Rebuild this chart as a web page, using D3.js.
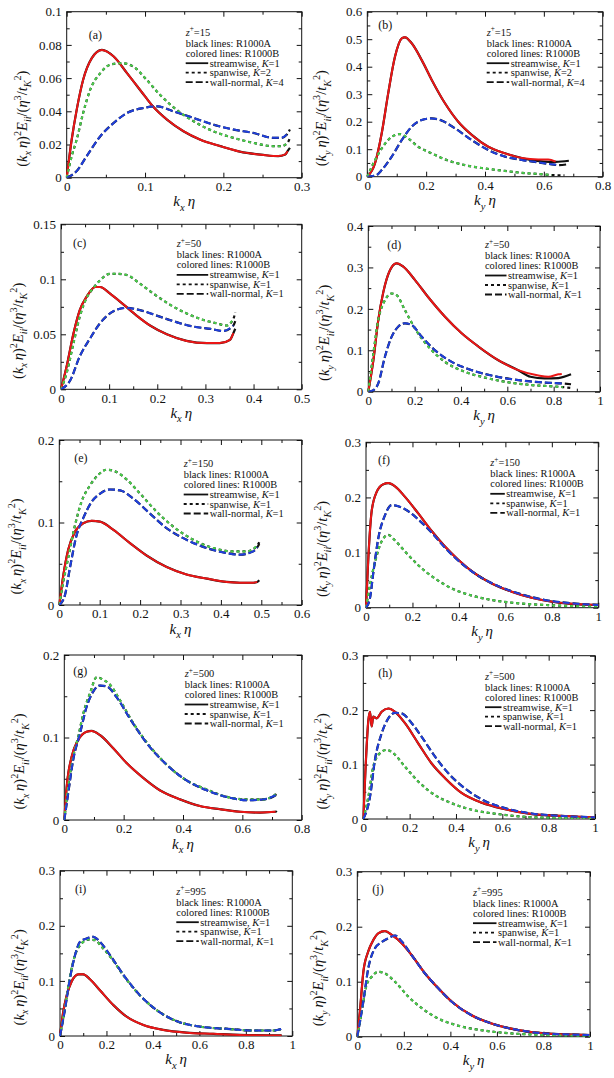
<!DOCTYPE html>
<html>
<head>
<meta charset="utf-8">
<script src="https://cdn.jsdelivr.net/npm/d3@7"></script>
<style>
    body { margin: 0; background: #fff; }
    svg text { font-family: "Liberation Serif", "Times New Roman", serif; fill: #111; }
</style>
</head>
<body>
<div id="chart"></div>
<script>
// ---- data: [k*eta, value] pairs for R1000B (colored lines)
// black R1000A lines follow the same points, with their own end pieces in *_tails

// (a) z+=15, k_x
const a_xTicks = [0, 0.1, 0.2, 0.3];
const a_yTicks = [0, 0.02, 0.04, 0.06, 0.08, 0.1];
const a_K = [1, 2, 4];
const a_stream = [[0,0],[0.0064,0.023],[0.0128,0.041],[0.021,0.059],[0.032,0.072],[0.045,0.077],[0.06,0.073],[0.077,0.063],[0.1,0.049],[0.11,0.043],[0.128,0.035],[0.149,0.028],[0.17,0.023],[0.196,0.019],[0.221,0.0157],[0.251,0.0137],[0.27,0.013],[0.279,0.014],[0.282,0.016]];
const a_span = [[0,0],[0.0064,0.013],[0.0128,0.023],[0.021,0.039],[0.03,0.053],[0.043,0.063],[0.055,0.068],[0.07,0.069],[0.085,0.067],[0.102,0.059],[0.119,0.05],[0.14,0.041],[0.162,0.034],[0.187,0.028],[0.213,0.024],[0.238,0.021],[0.264,0.019],[0.274,0.019],[0.282,0.021]];
const a_wall = [[0,0],[0.0128,0.004],[0.0255,0.013],[0.043,0.025],[0.06,0.033],[0.077,0.039],[0.098,0.042],[0.115,0.043],[0.136,0.04],[0.162,0.036],[0.187,0.032],[0.213,0.029],[0.238,0.027],[0.264,0.024],[0.274,0.024],[0.281,0.026]];
const a_tails = [[[0.285,0.018]], [[0.285,0.024]], [[0.285,0.029]]];

// (b) z+=15, k_y
const b_xTicks = [0, 0.2, 0.4, 0.6, 0.8];
const b_yTicks = [0, 0.1, 0.2, 0.3, 0.4, 0.5, 0.6];
const b_K = [1, 2, 4];
const b_stream = [[0,0],[0.026,0.048],[0.049,0.158],[0.071,0.303],[0.094,0.436],[0.117,0.503],[0.128,0.507],[0.151,0.485],[0.185,0.424],[0.219,0.352],[0.264,0.267],[0.309,0.2],[0.355,0.152],[0.411,0.109],[0.468,0.085],[0.525,0.068],[0.581,0.063],[0.615,0.063],[0.64,0.055]];
const b_span = [[0,0],[0.026,0.06],[0.049,0.103],[0.083,0.145],[0.111,0.155],[0.139,0.139],[0.173,0.109],[0.219,0.085],[0.264,0.063],[0.332,0.042],[0.4,0.03],[0.468,0.021],[0.536,0.013],[0.581,0.01],[0.627,0.006]];
const b_wall = [[0,0],[0.03,0.005],[0.049,0.024],[0.083,0.073],[0.117,0.133],[0.151,0.182],[0.185,0.206],[0.219,0.212],[0.253,0.204],[0.298,0.176],[0.355,0.133],[0.411,0.097],[0.468,0.073],[0.525,0.061],[0.581,0.052],[0.627,0.045],[0.65,0.042]];
const b_tails = [[[0.55,0.062],[0.6,0.055],[0.64,0.054],[0.685,0.058]], [[0.67,0.005]], [[0.68,0.045]]];

// (c) z+=50, k_x
const c_xTicks = [0, 0.1, 0.2, 0.3, 0.4, 0.5];
const c_yTicks = [0, 0.05, 0.1, 0.15];
const c_K = [1, 1, 1];
const c_stream = [[0,0],[0.0118,0.021],[0.026,0.051],[0.039,0.072],[0.053,0.084],[0.071,0.093],[0.081,0.093],[0.102,0.087],[0.13,0.077],[0.157,0.067],[0.185,0.058],[0.22,0.05],[0.261,0.044],[0.303,0.042],[0.33,0.042],[0.351,0.045],[0.358,0.051]];
const c_span = [[0,0],[0.0118,0.015],[0.026,0.042],[0.039,0.066],[0.053,0.083],[0.067,0.092],[0.081,0.099],[0.102,0.105],[0.116,0.105],[0.136,0.104],[0.164,0.096],[0.192,0.087],[0.226,0.077],[0.261,0.069],[0.296,0.063],[0.323,0.06],[0.344,0.058],[0.358,0.064]];
const c_wall = [[0,0],[0.019,0.008],[0.039,0.03],[0.06,0.046],[0.081,0.06],[0.109,0.071],[0.136,0.074],[0.164,0.072],[0.199,0.067],[0.233,0.062],[0.275,0.057],[0.31,0.055],[0.337,0.053],[0.358,0.058]];
const c_tails = [[[0.362,0.055]], [[0.362,0.07]], [[0.362,0.062]]];

// (d) z+=50, k_y
const d_xTicks = [0, 0.2, 0.4, 0.6, 0.8, 1];
const d_yTicks = [0, 0.1, 0.2, 0.3, 0.4];
const d_K = [1, 1, 1];
const d_stream = [[0,0],[0.022,0.076],[0.043,0.173],[0.065,0.241],[0.094,0.294],[0.122,0.31],[0.151,0.302],[0.201,0.27],[0.259,0.228],[0.331,0.181],[0.403,0.141],[0.475,0.109],[0.561,0.076],[0.647,0.052],[0.734,0.039],[0.777,0.036],[0.82,0.042],[0.835,0.043]];
const d_span = [[0,0],[0.022,0.093],[0.043,0.173],[0.072,0.221],[0.101,0.237],[0.122,0.233],[0.158,0.197],[0.201,0.153],[0.259,0.109],[0.331,0.072],[0.417,0.048],[0.504,0.034],[0.59,0.024],[0.705,0.016],[0.82,0.012],[0.84,0.011]];
const d_wall = [[0,0],[0.02,0.003],[0.043,0.02],[0.072,0.085],[0.101,0.133],[0.129,0.157],[0.158,0.165],[0.187,0.161],[0.23,0.133],[0.288,0.1],[0.36,0.072],[0.446,0.052],[0.532,0.039],[0.647,0.028],[0.763,0.022],[0.835,0.02]];
const d_tails = [[[0.7,0.036],[0.76,0.032],[0.82,0.033],[0.875,0.042]], [[0.875,0.009]], [[0.875,0.018]]];

// (e) z+=150, k_x
const e_xTicks = [0, 0.1, 0.2, 0.3, 0.4, 0.5, 0.6];
const e_yTicks = [0, 0.1, 0.2];
const e_K = [1, 1, 1];
const e_stream = [[0,0],[0.0099,0.036],[0.022,0.067],[0.039,0.089],[0.059,0.099],[0.08,0.102],[0.101,0.101],[0.134,0.091],[0.175,0.075],[0.216,0.06],[0.266,0.046],[0.315,0.037],[0.365,0.032],[0.414,0.028],[0.447,0.027],[0.48,0.027],[0.49,0.028]];
const e_span = [[0,0],[0.0099,0.028],[0.022,0.057],[0.039,0.097],[0.055,0.125],[0.076,0.145],[0.097,0.158],[0.117,0.164],[0.138,0.162],[0.167,0.152],[0.2,0.135],[0.241,0.113],[0.282,0.095],[0.332,0.079],[0.381,0.069],[0.431,0.065],[0.464,0.065],[0.488,0.071]];
const e_wall = [[0,0],[0.014,0.012],[0.026,0.044],[0.043,0.085],[0.059,0.105],[0.08,0.125],[0.101,0.135],[0.125,0.14],[0.15,0.139],[0.183,0.129],[0.224,0.111],[0.266,0.093],[0.315,0.079],[0.365,0.069],[0.414,0.063],[0.447,0.061],[0.48,0.065],[0.49,0.07]];
const e_tails = [[[0.495,0.03]], [[0.495,0.076]], [[0.495,0.074]]];

// (f) z+=150, k_y
const f_xTicks = [0, 0.2, 0.4, 0.6, 0.8, 1];
const f_yTicks = [0, 0.1, 0.2, 0.3];
const f_K = [1, 1, 1];
const f_stream = [[0,0],[0.01,0.09],[0.024,0.174],[0.046,0.21],[0.075,0.224],[0.096,0.226],[0.125,0.22],[0.168,0.201],[0.225,0.171],[0.283,0.139],[0.34,0.111],[0.397,0.087],[0.469,0.062],[0.541,0.044],[0.627,0.029],[0.713,0.018],[0.799,0.011],[0.885,0.007],[1,0.005]];
const f_span = [[0,0],[0.017,0.041],[0.039,0.083],[0.067,0.12],[0.096,0.132],[0.125,0.122],[0.168,0.102],[0.225,0.077],[0.297,0.053],[0.369,0.035],[0.455,0.022],[0.541,0.014],[0.656,0.008],[0.77,0.005],[0.885,0.003],[1,0.002]];
const f_wall = [[0,0],[0.017,0.017],[0.032,0.065],[0.053,0.126],[0.082,0.168],[0.11,0.186],[0.139,0.184],[0.182,0.175],[0.225,0.16],[0.283,0.136],[0.34,0.109],[0.412,0.08],[0.483,0.058],[0.57,0.039],[0.656,0.026],[0.77,0.014],[0.885,0.008],[1,0.005]];
const f_tails = [[], [], []];

// (g) z+=500, k_x
const g_xTicks = [0, 0.2, 0.4, 0.6, 0.8];
const g_yTicks = [0, 0.1, 0.2];
const g_K = [1, 1, 1];
const g_stream = [[0,0],[0.008,0.04],[0.025,0.077],[0.047,0.097],[0.075,0.107],[0.092,0.108],[0.12,0.103],[0.165,0.087],[0.21,0.069],[0.266,0.051],[0.322,0.036],[0.39,0.025],[0.457,0.017],[0.525,0.013],[0.592,0.01],[0.66,0.009],[0.712,0.01]];
const g_span = [[0,0],[0.013,0.04],[0.03,0.077],[0.047,0.101],[0.064,0.129],[0.087,0.154],[0.109,0.173],[0.131,0.17],[0.154,0.164],[0.188,0.145],[0.233,0.117],[0.289,0.089],[0.345,0.067],[0.412,0.048],[0.48,0.037],[0.547,0.028],[0.615,0.025],[0.671,0.025],[0.712,0.031]];
const g_wall = [[0,0],[0.013,0.032],[0.03,0.073],[0.053,0.105],[0.075,0.137],[0.098,0.156],[0.12,0.163],[0.143,0.162],[0.176,0.149],[0.221,0.123],[0.278,0.093],[0.345,0.067],[0.412,0.048],[0.48,0.036],[0.547,0.028],[0.615,0.024],[0.671,0.025],[0.712,0.03]];
const g_tails = [[[0.716,0.011]], [[0.716,0.034]], [[0.716,0.033]]];

// (h) z+=500, k_y
const h_xTicks = [0, 0.2, 0.4, 0.6, 0.8, 1];
const h_yTicks = [0, 0.1, 0.2, 0.3];
const h_K = [1, 1, 1];
const h_stream = [[0,0],[0.01,0.096],[0.022,0.182],[0.029,0.197],[0.036,0.17],[0.043,0.188],[0.058,0.185],[0.079,0.197],[0.108,0.203],[0.137,0.197],[0.18,0.176],[0.237,0.139],[0.295,0.102],[0.353,0.075],[0.424,0.048],[0.511,0.03],[0.612,0.018],[0.727,0.009],[0.842,0.006],[1,0.003]];
const h_span = [[0,0],[0.022,0.041],[0.043,0.096],[0.072,0.121],[0.101,0.127],[0.129,0.121],[0.18,0.096],[0.237,0.069],[0.309,0.044],[0.381,0.029],[0.468,0.017],[0.583,0.009],[0.698,0.004],[0.842,0.002],[1,0.001]];
const h_wall = [[0,0],[0.029,0.041],[0.05,0.108],[0.079,0.157],[0.108,0.185],[0.137,0.195],[0.165,0.194],[0.209,0.176],[0.252,0.151],[0.309,0.115],[0.367,0.084],[0.439,0.056],[0.525,0.033],[0.612,0.02],[0.727,0.01],[0.842,0.006],[1,0.003]];
const h_tails = [[], [], []];

// (i) z+=995, k_x
const i_xTicks = [0, 0.2, 0.4, 0.6, 0.8, 1];
const i_yTicks = [0, 0.1, 0.2, 0.3];
const i_K = [1, 1, 1];
const i_stream = [[0,0],[0.014,0.044],[0.029,0.074],[0.05,0.099],[0.079,0.112],[0.1,0.112],[0.129,0.103],[0.172,0.083],[0.23,0.056],[0.287,0.035],[0.359,0.02],[0.445,0.011],[0.545,0.006],[0.66,0.004],[0.775,0.002],[0.954,0.001]];
const i_span = [[0,0],[0.022,0.053],[0.043,0.108],[0.065,0.147],[0.093,0.168],[0.122,0.175],[0.151,0.174],[0.179,0.162],[0.222,0.141],[0.273,0.11],[0.344,0.074],[0.416,0.047],[0.502,0.027],[0.603,0.017],[0.717,0.013],[0.832,0.01],[0.918,0.01],[0.95,0.012]];
const i_wall = [[0,0],[0.022,0.05],[0.043,0.105],[0.065,0.147],[0.086,0.171],[0.115,0.177],[0.143,0.18],[0.172,0.171],[0.215,0.147],[0.273,0.111],[0.344,0.074],[0.416,0.047],[0.502,0.027],[0.603,0.017],[0.717,0.013],[0.832,0.01],[0.918,0.01],[0.954,0.013]];
const i_tails = [[], [], []];

// (j) z+=995, k_y
const j_xTicks = [0, 0.2, 0.4, 0.6, 0.8, 1];
const j_yTicks = [0, 0.1, 0.2, 0.3];
const j_K = [1, 1, 1];
const j_stream = [[0,0],[0.011,0.045],[0.026,0.118],[0.047,0.155],[0.069,0.176],[0.09,0.188],[0.119,0.192],[0.148,0.185],[0.191,0.17],[0.234,0.148],[0.291,0.115],[0.348,0.088],[0.405,0.064],[0.491,0.039],[0.577,0.024],[0.692,0.012],[0.807,0.006],[1,0.003]];
const j_span = [[0,0],[0.019,0.045],[0.04,0.094],[0.062,0.109],[0.09,0.118],[0.119,0.115],[0.162,0.1],[0.219,0.073],[0.277,0.052],[0.348,0.033],[0.434,0.02],[0.548,0.011],[0.663,0.006],[0.807,0.003],[1,0.001]];
const j_wall = [[0,0],[0.026,0.064],[0.047,0.124],[0.076,0.161],[0.105,0.172],[0.133,0.179],[0.162,0.184],[0.191,0.173],[0.234,0.148],[0.291,0.115],[0.348,0.088],[0.405,0.064],[0.491,0.039],[0.577,0.024],[0.692,0.012],[0.807,0.006],[1,0.003]];
const j_tails = [[], [], []];

const components = ["streamwise", "spanwise", "wall-normal"];
const zPlus = ["15", "15", "50", "50", "150", "150", "500", "500", "995", "995"];
const panelLabels = ["(a)", "(b)", "(c)", "(d)", "(e)", "(f)", "(g)", "(h)", "(i)", "(j)"];

const colors = ["#ea1616", "#48d048", "#1f3fdc"];
const dashes = [null, "3,3", "7,3"];

// frame boxes measured on the figure (pixels)
const layout = [
    {l: 66.7, r: 301.7, t: 11.7, b: 177.7, ytx: -40, lab: [22, 27], lx: -116, ldy: 0},
    {l: 367.3, r: 602.7, t: 11.7, b: 176.7, ytx: -41, lab: [11, 17], lx: -116, ldy: 0},
    {l: 61, r: 301.7, t: 224.3, b: 389.3, ytx: -38, lab: [12, 23], lx: -125, ldy: -1},
    {l: 368.3, r: 600, t: 226, b: 391.7, ytx: -39, lab: [19, 23], lx: -115, ldy: -2},
    {l: 59.3, r: 301.7, t: 440, b: 605, ytx: -38, lab: [15, 22], lx: -118, ldy: 3},
    {l: 366, r: 598.3, t: 442.3, b: 607.7, ytx: -39, lab: [12, 22], lx: -108, ldy: 0},
    {l: 64.3, r: 301.7, t: 655, b: 820, ytx: -40, lab: [9, 20], lx: -117, ldy: -2},
    {l: 363.3, r: 595, t: 655.7, b: 819, ytx: -36, lab: [15, 21], lx: -110, ldy: 0},
    {l: 60, r: 292.3, t: 870.7, b: 1036, ytx: -36, lab: [15, 22], lx: -116, ldy: 0},
    {l: 357.3, r: 590, t: 871.7, b: 1036.7, ytx: -34, lab: [15, 21], lx: -117, ldy: 0}
];

const panels = [
    {dir: "x", xTicks: a_xTicks, yTicks: a_yTicks, K: a_K, series: [a_stream, a_span, a_wall], tails: a_tails},
    {dir: "y", xTicks: b_xTicks, yTicks: b_yTicks, K: b_K, series: [b_stream, b_span, b_wall], tails: b_tails},
    {dir: "x", xTicks: c_xTicks, yTicks: c_yTicks, K: c_K, series: [c_stream, c_span, c_wall], tails: c_tails},
    {dir: "y", xTicks: d_xTicks, yTicks: d_yTicks, K: d_K, series: [d_stream, d_span, d_wall], tails: d_tails},
    {dir: "x", xTicks: e_xTicks, yTicks: e_yTicks, K: e_K, series: [e_stream, e_span, e_wall], tails: e_tails},
    {dir: "y", xTicks: f_xTicks, yTicks: f_yTicks, K: f_K, series: [f_stream, f_span, f_wall], tails: f_tails},
    {dir: "x", xTicks: g_xTicks, yTicks: g_yTicks, K: g_K, series: [g_stream, g_span, g_wall], tails: g_tails},
    {dir: "y", xTicks: h_xTicks, yTicks: h_yTicks, K: h_K, series: [h_stream, h_span, h_wall], tails: h_tails},
    {dir: "x", xTicks: i_xTicks, yTicks: i_yTicks, K: i_K, series: [i_stream, i_span, i_wall], tails: i_tails},
    {dir: "y", xTicks: j_xTicks, yTicks: j_yTicks, K: j_K, series: [j_stream, j_span, j_wall], tails: j_tails}
];

// append text pieces with sub/superscripts (offsets in px relative to base size)
function richText(sel, parts, size) {
    let shift = 0;
    parts.forEach(p => {
        let target = p.s === "sub" ? size * 0.3 : p.s === "sup" ? -size * 0.42 : 0;
        sel.append("tspan")
            .attr("dy", target - shift)
            .style("font-size", (p.s ? size * 0.7 : size) + "px")
            .style("font-style", p.i ? "italic" : "normal")
            .text(p.t);
        shift = target;
    });
    return sel;
}

function fmt(d) {
    return d === 0 ? "0" : d3.format("~g")(+d.toFixed(4));
}

class SpectrumPanel {
    constructor(svg, index) {
        this.svg = svg;
        this.index = index;
        this.cfg = panels[index];
        this.box = layout[index];
        this.initVis();
    }

    initVis() {
        let vis = this;
        let b = vis.box;

        vis.width = b.r - b.l;
        vis.height = b.b - b.t;
        vis.g = vis.svg.append("g").attr("transform", `translate(${b.l},${b.t})`);

        vis.x = d3.scaleLinear()
            .domain([0, d3.max(vis.cfg.xTicks)])
            .range([0, vis.width]);
        vis.y = d3.scaleLinear()
            .domain([0, d3.max(vis.cfg.yTicks)])
            .range([vis.height, 0]);

        // minor ticks half way between the labelled ones
        let xMinor = d3.pairs(vis.cfg.xTicks).map(p => (p[0] + p[1]) / 2);
        let yMinor = d3.pairs(vis.cfg.yTicks).map(p => (p[0] + p[1]) / 2);

        let addAxis = (axis, tx, ty, ticks, size, labels) => {
            let a = vis.g.append("g")
                .attr("transform", `translate(${tx},${ty})`)
                .call(axis.tickValues(ticks).tickSizeInner(-size).tickSizeOuter(0)
                    .tickFormat(labels ? fmt : ""));
            a.select(".domain").remove();
            a.selectAll(".tick line").attr("stroke", "#111");
            a.selectAll("text").style("font-size", "13px").attr("fill", "#111");
            return a;
        };
        addAxis(d3.axisBottom(vis.x).tickPadding(4), 0, vis.height, vis.cfg.xTicks, 5, true);
        addAxis(d3.axisLeft(vis.y).tickPadding(5), 0, 0, vis.cfg.yTicks, 5, true);
        addAxis(d3.axisTop(vis.x), 0, 0, vis.cfg.xTicks, 5, false);
        addAxis(d3.axisRight(vis.y), vis.width, 0, vis.cfg.yTicks, 5, false);
        addAxis(d3.axisBottom(vis.x), 0, vis.height, xMinor, 3, false);
        addAxis(d3.axisLeft(vis.y), 0, 0, yMinor, 3, false);
        addAxis(d3.axisTop(vis.x), 0, 0, xMinor, 3, false);
        addAxis(d3.axisRight(vis.y), vis.width, 0, yMinor, 3, false);

        vis.g.append("rect")
            .attr("width", vis.width)
            .attr("height", vis.height)
            .attr("fill", "none")
            .attr("stroke", "#111")
            .attr("stroke-width", 1);

        vis.g.append("clipPath")
            .attr("id", "clip" + vis.index)
            .append("rect")
            .attr("x", -1).attr("y", -1)
            .attr("width", vis.width + 2)
            .attr("height", vis.height + 1);

        vis.lines = vis.g.append("g").attr("clip-path", `url(#clip${vis.index})`);

        // axis titles
        let xt = vis.g.append("text")
            .attr("x", vis.width / 2)
            .attr("y", vis.height + 28.5)
            .attr("text-anchor", "middle");
        richText(xt, [{t: "k", i: true}, {t: vis.cfg.dir, i: true, s: "sub"}, {t: "\u2009\u03b7", i: true}], 15);

        let yt = vis.g.append("text")
            .attr("transform", `translate(${b.ytx},${vis.height / 2 + 24}) rotate(-90)`)
            .attr("text-anchor", "middle");
        richText(yt, [
            {t: "("}, {t: "k", i: true}, {t: vis.cfg.dir, i: true, s: "sub"}, {t: "\u2009\u03b7", i: true}, {t: ")"},
            {t: "2", s: "sup"}, {t: "E", i: true}, {t: "ii", i: true, s: "sub"}, {t: "/("}, {t: "\u03b7", i: true},
            {t: "3", s: "sup"}, {t: "/"}, {t: "t", i: true}, {t: "K", i: true, s: "sub"}, {t: "2", s: "sup"}, {t: ")"}
        ], 14.5);

        vis.g.append("text")
            .attr("x", b.lab[0])
            .attr("y", b.lab[1])
            .style("font-size", "12px")
            .text(panelLabels[vis.index]);

        vis.drawLegend();
        vis.updateVis();
    }

    drawLegend() {
        let vis = this;
        let lx = vis.width + vis.box.lx;
        let tx = vis.width - 92;
        let y0 = vis.box.ldy;
        let fs = 10.4;

        let zt = vis.g.append("text").attr("x", lx).attr("y", y0 + 24);
        richText(zt, [{t: "z", i: true}, {t: "+", s: "sup"}, {t: "=" + zPlus[vis.index]}], fs);

        vis.g.append("text").attr("x", lx).attr("y", y0 + 35).style("font-size", fs + "px").text("black lines: R1000A");
        vis.g.append("text").attr("x", lx).attr("y", y0 + 45).style("font-size", fs + "px").text("colored lines: R1000B");

        components.forEach((c, k) => {
            let yy = y0 + 55 + k * 9.5;
            vis.g.append("line")
                .attr("x1", lx).attr("x2", tx - 1.5)
                .attr("y1", yy - 3.5).attr("y2", yy - 3.5)
                .attr("stroke", "#111")
                .attr("stroke-width", 1.8)
                .attr("stroke-dasharray", dashes[k]);
            let t = vis.g.append("text").attr("x", tx).attr("y", yy);
            richText(t, [{t: c + ", "}, {t: "K", i: true}, {t: "=" + vis.cfg.K[k]}], fs);
        });
    }

    updateVis() {
        let vis = this;

        let line = d3.line()
            .x(d => vis.x(d[0]))
            .y(d => vis.y(d[1]))
            .curve(d3.curveMonotoneX);

        let blackData = vis.cfg.series.map((s, k) => {
            let tail = vis.cfg.tails[k];
            return tail.length ? s.filter(p => p[0] < tail[0][0]).concat(tail) : s;
        });

        vis.lines.selectAll(".black")
            .data(blackData)
            .enter()
            .append("path")
            .attr("class", "black")
            .attr("d", line)
            .attr("fill", "none")
            .attr("stroke", "#111")
            .attr("stroke-width", 2.2)
            .attr("stroke-dasharray", (d, k) => dashes[k]);

        vis.lines.selectAll(".colored")
            .data(vis.cfg.series)
            .enter()
            .append("path")
            .attr("class", "colored")
            .attr("d", line)
            .attr("fill", "none")
            .attr("stroke", (d, k) => colors[k])
            .attr("stroke-width", 2)
            .attr("stroke-dasharray", (d, k) => dashes[k]);
    }
}

const svg = d3.select("#chart").append("svg")
    .attr("width", 614)
    .attr("height", 1078);

panels.forEach((p, i) => new SpectrumPanel(svg, i));
</script>
</body>
</html>
